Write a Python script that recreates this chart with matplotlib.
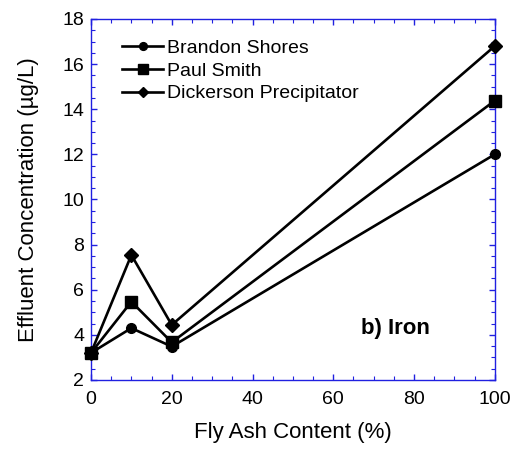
import matplotlib
matplotlib.use("Agg")
import matplotlib.pyplot as plt
from matplotlib.ticker import MultipleLocator

plt.rcParams["font.family"] = ["Liberation Sans", "DejaVu Sans"]

# fly ash content (%) and iron effluent concentration (ug/L) per ash source
fly_ash = [0, 10, 20, 100]
brandon_shores = [3.2, 4.3, 3.48, 12.0]
paul_smith = [3.2, 5.47, 3.67, 14.38]
dickerson = [3.2, 7.54, 4.44, 16.8]

AXIS_BLUE = "#2020E0"

fig = plt.figure(figsize=(5.17, 4.49), dpi=100)
ax = fig.add_axes([0.176, 0.1537, 0.781, 0.804])

ax.plot(fly_ash, brandon_shores, color="black", lw=1.9, marker="o", ms=7,
        label="Brandon Shores", clip_on=False, zorder=3)
ax.plot(fly_ash, paul_smith, color="black", lw=1.9, marker="s", ms=8.5,
        label="Paul Smith", clip_on=False, zorder=3)
ax.plot(fly_ash, dickerson, color="black", lw=1.9, marker="D", ms=6.8,
        label="Dickerson Precipitator", clip_on=False, zorder=3)

ax.set_xlim(0, 100)
ax.set_ylim(2, 18)
ax.xaxis.set_major_locator(MultipleLocator(20))
ax.xaxis.set_minor_locator(MultipleLocator(5))
ax.yaxis.set_major_locator(MultipleLocator(2))
ax.yaxis.set_minor_locator(MultipleLocator(0.5))

for s in ax.spines.values():
    s.set_color(AXIS_BLUE)
    s.set_linewidth(1.0)
ax.tick_params(which="both", direction="in", top=True, right=True,
               color=AXIS_BLUE, labelsize=14, labelcolor="black")
ax.tick_params(which="major", length=4.5, width=1.0, pad=5)
ax.tick_params(axis="x", which="major", pad=8)
ax.tick_params(which="minor", length=2.8, width=0.8)

ax.set_xlabel("Fly Ash Content (%)", fontsize=16, labelpad=10)
ax.set_ylabel("Effluent Concentration (\u00b5g/L)", fontsize=16, labelpad=17)

ax.text(66.8, 4.3, "b) Iron", fontsize=16, fontweight="bold", va="center")

ax.legend(loc="upper left", bbox_to_anchor=(0.058, 0.966), frameon=False,
          fontsize=14, handlelength=2.1, handletextpad=0.2, labelspacing=0.27,
          markerscale=0.8, borderaxespad=0.0)

fig.savefig("out.png", dpi=100)
